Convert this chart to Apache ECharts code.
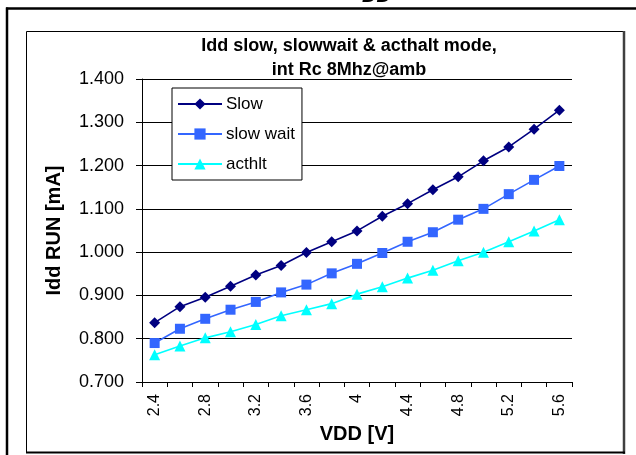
<!DOCTYPE html>
<html>
<head>
<meta charset="utf-8">
<script src="https://cdn.jsdelivr.net/npm/echarts@6/dist/echarts.min.js"></script>
<style>
html,body{margin:0;padding:0;background:#fff;}
#main{width:636px;height:455px;}
</style>
</head>
<body>
<div id="main"></div>
<script>
var categories = ['2.4','2.6','2.8','3','3.2','3.4','3.6','3.8','4','4.2','4.4','4.6','4.8','5','5.2','5.4','5.6'];
var slowValues = [0.837,0.874,0.896,0.921,0.947,0.969,0.999,1.024,1.049,1.083,1.112,1.144,1.174,1.211,1.243,1.284,1.328];
var slowWaitValues = [0.790,0.823,0.846,0.867,0.885,0.907,0.925,0.951,0.973,0.998,1.024,1.046,1.075,1.100,1.134,1.167,1.199];
var acthltValues = [0.763,0.783,0.802,0.816,0.833,0.853,0.867,0.881,0.903,0.920,0.940,0.958,0.980,1.000,1.024,1.049,1.075];
var seriesNames = ['Slow','slow wait','acthlt'];
var titleLines = ['Idd slow, slowwait & acthalt mode,','int Rc 8Mhz@amb'];
var yAxisName = 'Idd RUN [mA]';
var xAxisName = 'VDD [V]';

var FONT = '"Liberation Sans", Arial, sans-serif';
var chart = echarts.init(document.getElementById('main'), null, {renderer:'canvas'});
chart.setOption({
  backgroundColor:'#fff',
  animation:false,
  title:{
    text: titleLines.join('\n'),
    left: 344, top: 29, textAlign:'center',
    textStyle:{fontFamily:FONT, fontWeight:'bold', fontSize:18, lineHeight:24, color:'#000'}
  },
  legend:{
    left: 172, top: 88, orient:'vertical',
    data: seriesNames,
    itemWidth:44, itemHeight:14, itemGap:10,
    padding:[6,7,6,5],
    backgroundColor:'#fff', borderColor:'#000', borderWidth:1,
    textStyle:{fontFamily:FONT, fontSize:17, color:'#000', lineHeight:20, padding:[0,0,0,-1]}
  },
  grid:{left:142, right:64, top:79, bottom:73, containLabel:false},
  xAxis:{
    type:'category', data:categories, boundaryGap:true,
    name:xAxisName, nameLocation:'middle', nameGap:40,
    nameTextStyle:{fontFamily:FONT, fontWeight:'bold', fontSize:20, color:'#000'},
    axisLine:{lineStyle:{color:'#000', width:1}},
    axisTick:{show:true, interval:0, length:5, lineStyle:{color:'#000'}},
    axisLabel:{interval:1, rotate:90, margin:12, fontFamily:FONT, fontSize:16, color:'#000'},
    splitLine:{show:false}
  },
  yAxis:{
    type:'value', min:0.7, max:1.4, interval:0.1,
    name:yAxisName, nameLocation:'middle', nameGap:78, nameRotate:90,
    nameTextStyle:{fontFamily:FONT, fontWeight:'bold', fontSize:20, color:'#000'},
    axisLine:{show:true, lineStyle:{color:'#000', width:1}},
    axisTick:{show:true, length:6, lineStyle:{color:'#000'}},
    axisLabel:{margin:18, fontFamily:FONT, fontSize:18, color:'#000',
      formatter:function(v){return v.toFixed(3);}},
    splitLine:{show:true, lineStyle:{color:'#000', width:1}}
  },
  series:[
    {name:seriesNames[0], type:'line', data:slowValues, symbol:'diamond', symbolSize:11,
     color:'#000080', lineStyle:{width:1.6, color:'#000080'}, itemStyle:{color:'#000080'}, z:5},
    {name:seriesNames[1], type:'line', data:slowWaitValues, symbol:'rect', symbolSize:10,
     color:'#3366FF', lineStyle:{width:1.6, color:'#3366FF'}, itemStyle:{color:'#3366FF'}, z:4},
    {name:seriesNames[2], type:'line', data:acthltValues, symbol:'triangle', symbolSize:11,
     color:'#00FFFF', lineStyle:{width:1.6, color:'#00FFFF'}, itemStyle:{color:'#00FFFF'}, z:3}
  ],
  graphic:[
    {type:'line', shape:{x1:6,y1:8.5,x2:636,y2:8.5}, style:{stroke:'#000', lineWidth:2.5}, z:-1},
    {type:'line', shape:{x1:7,y1:7.5,x2:7,y2:455}, style:{stroke:'#000', lineWidth:2.5}, z:-1},
    {type:'rect', shape:{x:26.5,y:31.5,width:597,height:421}, style:{stroke:'#000', lineWidth:1, fill:null}, z:-1},
    {type:'line', shape:{x1:624,y1:31,x2:624,y2:454}, style:{stroke:'#404040', lineWidth:2.5}, z:-1},
    {type:'line', shape:{x1:26,y1:452.5,x2:625,y2:452.5}, style:{stroke:'#000', lineWidth:2}, z:-1},
    {type:'text', x:362, y:-4, style:{text:'DD', font:'italic bold 20px "Liberation Sans", Arial', fill:'#000', verticalAlign:'middle'}, z:-1}
  ]
});
</script>
</body>
</html>
